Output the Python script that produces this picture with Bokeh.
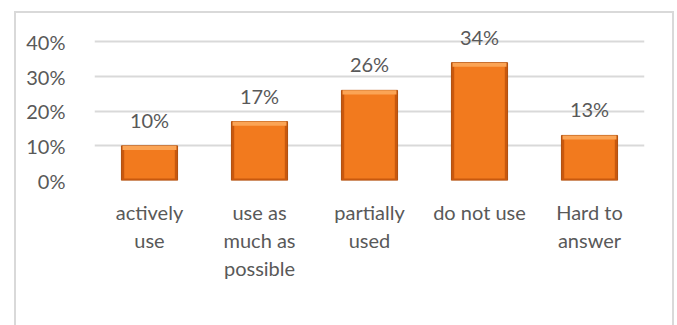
from bokeh.plotting import figure
from bokeh.models import FixedTicker, ColumnDataSource, LinearAxis, Range1d
from bokeh.embed import file_html
from bokeh.resources import INLINE
from bokeh.core.properties import value

categories = ["actively use", "use as much as possible", "partially used", "do not use", "Hard to answer"]
label_line1 = ["actively", "use as", "partially", "do not use", "Hard to"]
label_line2 = ["use", "much as", "used", "", "answer"]
label_line3 = ["", "possible", "", "", ""]
shares = [0.10, 0.17, 0.26, 0.34, 0.13]
share_labels = ["10%", "17%", "26%", "34%", "13%"]
y_ticks = [0.0, 0.1, 0.2, 0.3, 0.4]
y_tick_labels = ["0%", "10%", "20%", "30%", "40%"]

FONT = "Lato"
GRAY = "#595959"
FS = "20px"

xpos = list(range(len(categories)))

src = ColumnDataSource(dict(
    x=xpos,
    v=shares,
    inner_top=[s - 0.006 for s in shares],
    inner_bottom=[0.006 for s in shares],
    hi_bottom=[s - 0.012 for s in shares],
    lab=share_labels,
))

p = figure(x_range=Range1d(-0.5, len(categories) - 0.5), y_range=(0, 0.45),
           width=660, height=314, output_backend="svg", toolbar_location=None,
           min_border_left=78, min_border_right=32, min_border_top=11, min_border_bottom=147,
           margin=(11, 0, 0, 14), x_axis_location=None)
p.styles = {"border": "2px solid #D9D9D9", "border-bottom": "none", "box-sizing": "border-box"}
p.outline_line_color = None
p.background_fill_color = "white"
p.border_fill_color = "white"

# bars with bevel effect
p.vbar(x="x", top="v", bottom=0, width=0.51, source=src,
       fill_color="#C8580E", line_color="#B04E0C", line_width=1)
p.vbar(x="x", top="inner_top", bottom="inner_bottom", width=0.46, source=src,
       fill_color="#F27A1E", line_color=None)
p.vbar(x="x", top="v", bottom="hi_bottom", width=0.49, source=src,
       fill_color="#FBA455", line_color=None)

p.text(x="x", y="v", text="lab", source=src, y_offset=-26,
       text_align="center", text_baseline="alphabetic",
       text_font=value(FONT), text_font_size=FS, text_color=GRAY)

# category labels: one stacked axis per text line
for lines, standoff in ((label_line1, 13), (label_line2, -5), (label_line3, -5)):
    ax = LinearAxis(ticker=FixedTicker(ticks=xpos),
                    major_label_overrides={i: l for i, l in zip(xpos, lines)})
    ax.axis_line_color = None
    ax.major_tick_line_color = None
    ax.minor_tick_line_color = None
    ax.major_label_standoff = standoff
    ax.major_label_text_font = FONT
    ax.major_label_text_font_size = FS
    ax.major_label_text_color = GRAY
    p.add_layout(ax, "below")

p.yaxis.ticker = FixedTicker(ticks=y_ticks)
p.yaxis.major_label_overrides = {t: l for t, l in zip(y_ticks, y_tick_labels)}
p.yaxis.axis_line_color = None
p.yaxis.major_tick_line_color = None
p.yaxis.minor_tick_line_color = None
p.yaxis.major_label_standoff = 23
p.yaxis.major_label_text_font = FONT
p.yaxis.major_label_text_font_size = FS
p.yaxis.major_label_text_color = GRAY

p.xgrid.grid_line_color = None
p.ygrid.ticker = FixedTicker(ticks=y_ticks)
p.ygrid.grid_line_color = "#D9D9D9"
p.ygrid.grid_line_width = 2

open("out.html", "w").write(file_html(p, INLINE))
